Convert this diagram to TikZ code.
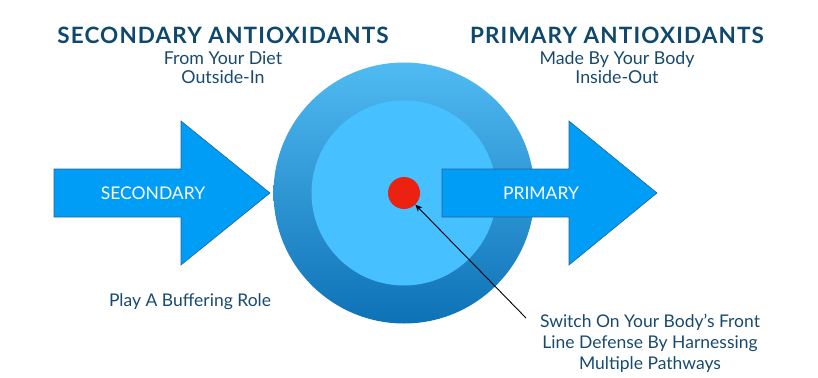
\documentclass[tikz,border=0pt]{standalone}
\usepackage{fontspec}
\setmainfont{Lato}
\newfontfamily\titolofont[LetterSpace=5]{Lato}
\usetikzlibrary{arrows.meta}

\definecolor{blunotte}{RGB}{14,72,108}
\definecolor{bluscritta}{RGB}{24,74,110}
\definecolor{azzurro}{RGB}{0,157,246}
\definecolor{bordoazz}{RGB}{40,100,150}
\definecolor{anellosu}{RGB}{80,186,242}
\definecolor{anellogiu}{RGB}{14,114,182}
\definecolor{celeste}{RGB}{70,192,254}
\definecolor{rosso}{RGB}{236,34,16}

\begin{document}
\begin{tikzpicture}[
    x=1pt,y=1pt,
    freccia/.style={draw=bordoazz,line width=0.6pt,fill=azzurro},
    titolo/.style={text=blunotte,font=\titolofont\fontsize{22.5}{24}\selectfont\bfseries,inner sep=0pt},
    sottotitolo/.style={text=bluscritta,font=\fontsize{17.8}{19}\selectfont,align=center,inner sep=0pt},
    etichetta/.style={text=white,font=\fontsize{17.5}{19}\selectfont,inner sep=0pt},
    nota/.style={text=bluscritta,font=\fontsize{17.5}{21}\selectfont,align=center,inner sep=0pt},
    richiamo/.style={draw=black,line width=0.9pt,-{Stealth[length=7pt,width=6pt]}}]

  \useasboundingbox (0,0) rectangle (818,-377);

  % ---- coordinate ------------------------------------------------------
  \coordinate (c)   at (404,-193);   % centro dei cerchi

  % freccia di sinistra (secondari)
  \coordinate (s1) at ( 54,-169);
  \coordinate (s2) at (181,-169);
  \coordinate (s3) at (181,-121);
  \coordinate (s4) at (270,-193);
  \coordinate (s5) at (181,-265);
  \coordinate (s6) at (181,-217);
  \coordinate (s7) at ( 54,-217);

  % freccia di destra (primari)
  \coordinate (p1) at (442,-169);
  \coordinate (p2) at (569,-169);
  \coordinate (p3) at (569,-121);
  \coordinate (p4) at (657,-193);
  \coordinate (p5) at (569,-265);
  \coordinate (p6) at (569,-217);
  \coordinate (p7) at (442,-217);

  \coordinate (inizio) at (526,-318);   % partenza del richiamo

  % ---- frecce e cerchi -------------------------------------------------
  \draw[freccia] (s1) -- (s2) -- (s3) -- (s4) -- (s5) -- (s6) -- (s7) -- cycle;

  \node[circle,minimum size=261,inner sep=0pt,top color=anellosu,bottom color=anellogiu] (anello) at (c) {};
  \node[circle,minimum size=185,inner sep=0pt,fill=celeste] (disco) at (c) {};
  \node[circle,minimum size=32,inner sep=0pt,fill=rosso] (nucleo) at (c) {};

  \draw[freccia] (p1) -- (p2) -- (p3) -- (p4) -- (p5) -- (p6) -- (p7) -- cycle;

  % ---- testi -----------------------------------------------------------
  \node[titolo] (tsec) at (223,-35) {SECONDARY ANTIOXIDANTS};
  \node[sottotitolo] (ssec) at (223,-67.5) {From Your Diet\\Outside-In};

  \node[titolo] (tpri) at (617,-35) {PRIMARY ANTIOXIDANTS};
  \node[sottotitolo] (spri) at (617,-67.5) {Made By Your Body\\Inside-Out};

  \node[etichetta] (esec) at (153,-193) {SECONDARY};
  \node[etichetta] (epri) at (541,-193) {PRIMARY};

  \node[nota] (ruolo) at (190,-302) {Play A Buffering Role};
  \node[nota] (difesa) at (650,-343) {Switch On Your Body’s Front\\Line Defense By Harnessing\\Multiple Pathways};

  % ---- richiamo --------------------------------------------------------
  \draw[richiamo] (inizio) -- (nucleo);

\end{tikzpicture}
\end{document}
